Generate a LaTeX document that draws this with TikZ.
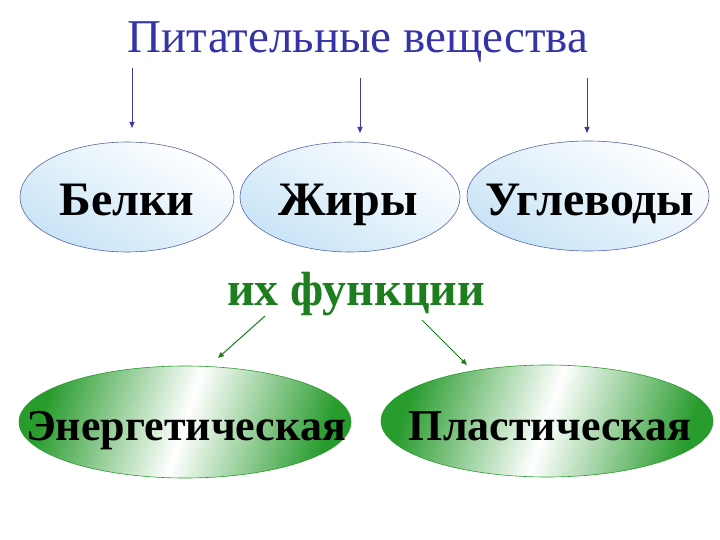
\documentclass[tikz,border=0pt]{standalone}
\usepackage{fontspec}
\setmainfont{Liberation Serif}
\usetikzlibrary{shapes.geometric,arrows.meta}
\definecolor{titleblue}{RGB}{52,52,168}
\definecolor{arrowblue}{RGB}{60,60,160}
\definecolor{lightblue}{RGB}{200,228,246}
\definecolor{ellborder}{RGB}{90,100,170}
\definecolor{fgreen}{RGB}{30,125,30}
\definecolor{egreen}{RGB}{40,155,45}
\tikzset{
  blueell/.style={ellipse, draw=ellborder, line width=0.6pt, inner sep=0pt,
    top color=white, bottom color=lightblue, shading angle=-30},
  greenell/.style={ellipse, draw=egreen, line width=0.6pt, inner sep=0pt,
    left color=egreen, right color=egreen, middle color=white, shading angle=72},
  toplabel/.style={anchor=base, font=\fontsize{48}{52}\selectfont\bfseries},
  botlabel/.style={anchor=base, font=\fontsize{44}{48}\selectfont\bfseries},
  bluearrow/.style={draw=arrowblue, line width=0.9pt, -{Triangle[length=6pt,width=5pt]}},
  greenarrow/.style={draw=fgreen, line width=1pt, -{Triangle[length=6pt,width=5pt]}},
}
\begin{document}
\begin{tikzpicture}[x=1pt,y=-1pt]
\useasboundingbox[fill=white] (0,0) rectangle (720,540);
\node[text=titleblue, font=\fontsize{47}{50}\selectfont, anchor=base] (title) at (358,53) {Питательные вещества};
\node[blueell, minimum width=214pt, minimum height=110pt] (b) at (127,197) {};
\node[blueell, minimum width=220pt, minimum height=110pt] (zh) at (350,197) {};
\node[blueell, minimum width=242pt, minimum height=110pt] (u) at (588,196) {};
\node[toplabel] (bt) at (127,215) {Белки};
\node[toplabel] (zht) at (348,215) {Жиры};
\node[toplabel] (ut) at (590,215) {Углеводы};
\coordinate (a1s) at (132,68); \coordinate (a1e) at (132,128);
\coordinate (a2s) at (360,78); \coordinate (a2e) at (360,133);
\coordinate (a3s) at (587,78); \coordinate (a3e) at (587,133);
\draw[bluearrow] (a1s) -- (a1e);
\draw[bluearrow] (a2s) -- (a2e);
\draw[bluearrow] (a3s) -- (a3e);
\node[text=fgreen, font=\fontsize{48}{52}\selectfont\bfseries, anchor=base] (f) at (356,305) {их функции};
\node[greenell, minimum width=332pt, minimum height=112pt] (e) at (185,422) {};
\node[greenell, minimum width=332pt, minimum height=112pt] (p) at (547,421) {};
\node[botlabel] (et) at (186,440) {Энергетическая};
\node[botlabel] (pt) at (550,440) {Пластическая};
\coordinate (g1s) at (265,316); \coordinate (g1e) at (218,358);
\coordinate (g2s) at (422,320); \coordinate (g2e) at (467,365);
\draw[greenarrow] (g1s) -- (g1e);
\draw[greenarrow] (g2s) -- (g2e);
\end{tikzpicture}
\end{document}
